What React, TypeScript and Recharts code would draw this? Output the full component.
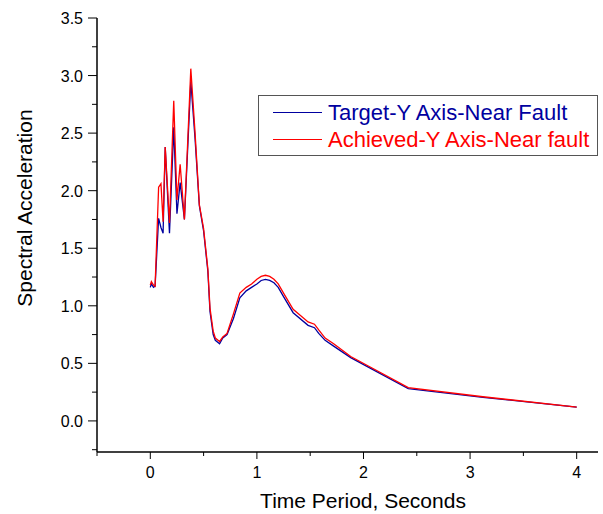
import React from 'react';
import { LineChart, Line, XAxis, YAxis, Legend } from 'recharts';

// time period (s) and spectral acceleration
const periods = [
  0, 0.01, 0.03, 0.045, 0.078, 0.1, 0.12, 0.14, 0.18, 0.22, 0.25, 0.28, 0.32, 0.38, 0.42, 0.46, 0.5,
  0.54, 0.56, 0.59, 0.61, 0.65, 0.68, 0.72, 0.78, 0.84, 0.9, 0.95, 1.0, 1.04, 1.08, 1.12, 1.16, 1.2,
  1.25, 1.34, 1.48, 1.54, 1.58, 1.64, 1.72, 1.88, 2.08, 2.42, 3.12, 4.0,
];
const targetY = [
  1.16, 1.19, 1.16, 1.17, 1.76, 1.68, 1.63, 2.38, 1.63, 2.55, 1.8, 2.07, 1.75, 2.95, 2.45, 1.87, 1.65,
  1.3, 0.95, 0.75, 0.7, 0.67, 0.72, 0.75, 0.89, 1.07, 1.13, 1.16, 1.19, 1.22, 1.23, 1.22, 1.2, 1.16,
  1.08, 0.94, 0.83, 0.81, 0.76, 0.7, 0.65, 0.55, 0.45, 0.28, 0.205, 0.12,
];
const achievedY = [
  1.18, 1.21, 1.18, 1.17, 2.03, 2.06, 1.73, 2.38, 1.72, 2.78, 1.92, 2.23, 1.75, 3.06, 2.5, 1.88, 1.67,
  1.32, 0.98, 0.78, 0.72, 0.69, 0.73, 0.76, 0.93, 1.11, 1.16, 1.19, 1.23, 1.255, 1.265, 1.255, 1.23, 1.19,
  1.11, 0.97, 0.86, 0.84, 0.79, 0.72, 0.67, 0.56, 0.46, 0.29, 0.21, 0.12,
];

const seriesNames = ['Target-Y Axis-Near Fault', 'Achieved-Y Axis-Near fault'];
const xTicks = [-0.5, 0, 0.5, 1, 1.5, 2, 2.5, 3, 3.5, 4];
const yTicks = [-0.25, 0, 0.25, 0.5, 0.75, 1, 1.25, 1.5, 1.75, 2, 2.25, 2.5, 2.75, 3, 3.25, 3.5];

const FONT = '"Liberation Sans", Arial, sans-serif';
const BLUE = '#0000a0';
const RED = '#ff0000';
const seriesColors = [BLUE, RED];

const XTick = (props: any) => {
  const { x, y, payload } = props;
  const v = payload.value;
  const major = Number.isInteger(v);
  return (
    <g>
      <line x1={x} x2={x} y1={y} y2={y + (major ? 7 : 4)} stroke="#000" />
      {major && (
        <text x={x} y={y + 26} textAnchor="middle" fontSize={16} fontFamily={FONT} fill="#000">
          {v}
        </text>
      )}
    </g>
  );
};

const YTick = (props: any) => {
  const { x, y, payload } = props;
  const v = payload.value;
  const major = Math.abs(v * 2 - Math.round(v * 2)) < 1e-6;
  return (
    <g>
      <line x1={x} x2={x - (major ? 9 : 5)} y1={y} y2={y} stroke="#000" />
      {major && (
        <text x={x - 14} y={y + 6} textAnchor="end" fontSize={16} fontFamily={FONT} fill="#000">
          {v.toFixed(1)}
        </text>
      )}
    </g>
  );
};

// legend box, fixed series order
const LegendBox = () => (
  <div
    style={{
      width: 340,
      height: 61,
      border: '1px solid #555',
      background: '#fff',
      fontFamily: FONT,
      fontSize: 22,
      boxSizing: 'border-box',
      paddingTop: 3,
    }}
  >
    {seriesNames.map((name, i) => (
      <div key={name} style={{ display: 'flex', alignItems: 'center', height: 27 }}>
        <div style={{ width: 49, height: 0, marginLeft: 14, borderTop: `1.3px solid ${seriesColors[i]}` }} />
        <span style={{ marginLeft: 6, color: seriesColors[i], lineHeight: '27px' }}>{name}</span>
      </div>
    ))}
  </div>
);

export default function App() {
  const data = periods.map((t, i) => ({ t, target: targetY[i], achieved: achievedY[i] }));

  return (
    <div style={{ position: 'absolute', left: 0, top: 0, width: 603, height: 514, background: '#fff' }}>
      <LineChart width={603} height={514} data={data} margin={{ top: 18, right: 5, left: 0, bottom: 0 }}>
        <XAxis
          dataKey="t"
          type="number"
          domain={[-0.5, 4.2]}
          ticks={xTicks}
          interval={0}
          allowDataOverflow
          height={62}
          tickSize={0}
          tickMargin={0}
          tickLine={false}
          tick={<XTick />}
          axisLine={{ stroke: '#000', strokeWidth: 1.5 }}
          label={() => (
            <text x={363} y={508} textAnchor="middle" fontSize={21} fontFamily={FONT} fill="#000">
              Time Period, Seconds
            </text>
          )}
        />
        <YAxis
          type="number"
          domain={[-0.27, 3.5]}
          ticks={yTicks}
          interval={0}
          allowDataOverflow
          width={97}
          tickSize={0}
          tickMargin={0}
          tickLine={false}
          tick={<YTick />}
          axisLine={{ stroke: '#000', strokeWidth: 1.5 }}
          label={() => (
            <text
              x={32}
              y={208}
              transform="rotate(-90 32 208)"
              textAnchor="middle"
              fontSize={21}
              fontFamily={FONT}
              fill="#000"
            >
              Spectral Acceleration
            </text>
          )}
        />
        <Legend
          layout="horizontal"
          verticalAlign="middle"
          align="center"
          content={<LegendBox />}
          wrapperStyle={{ left: 258, top: 95, width: 340, height: 61 }}
        />
        <Line
          type="linear"
          dataKey="target"
          name={seriesNames[0]}
          stroke={BLUE}
          strokeWidth={1.3}
          dot={false}
          isAnimationActive={false}
        />
        <Line
          type="linear"
          dataKey="achieved"
          name={seriesNames[1]}
          stroke={RED}
          strokeWidth={1.3}
          dot={false}
          isAnimationActive={false}
        />
      </LineChart>
    </div>
  );
}
